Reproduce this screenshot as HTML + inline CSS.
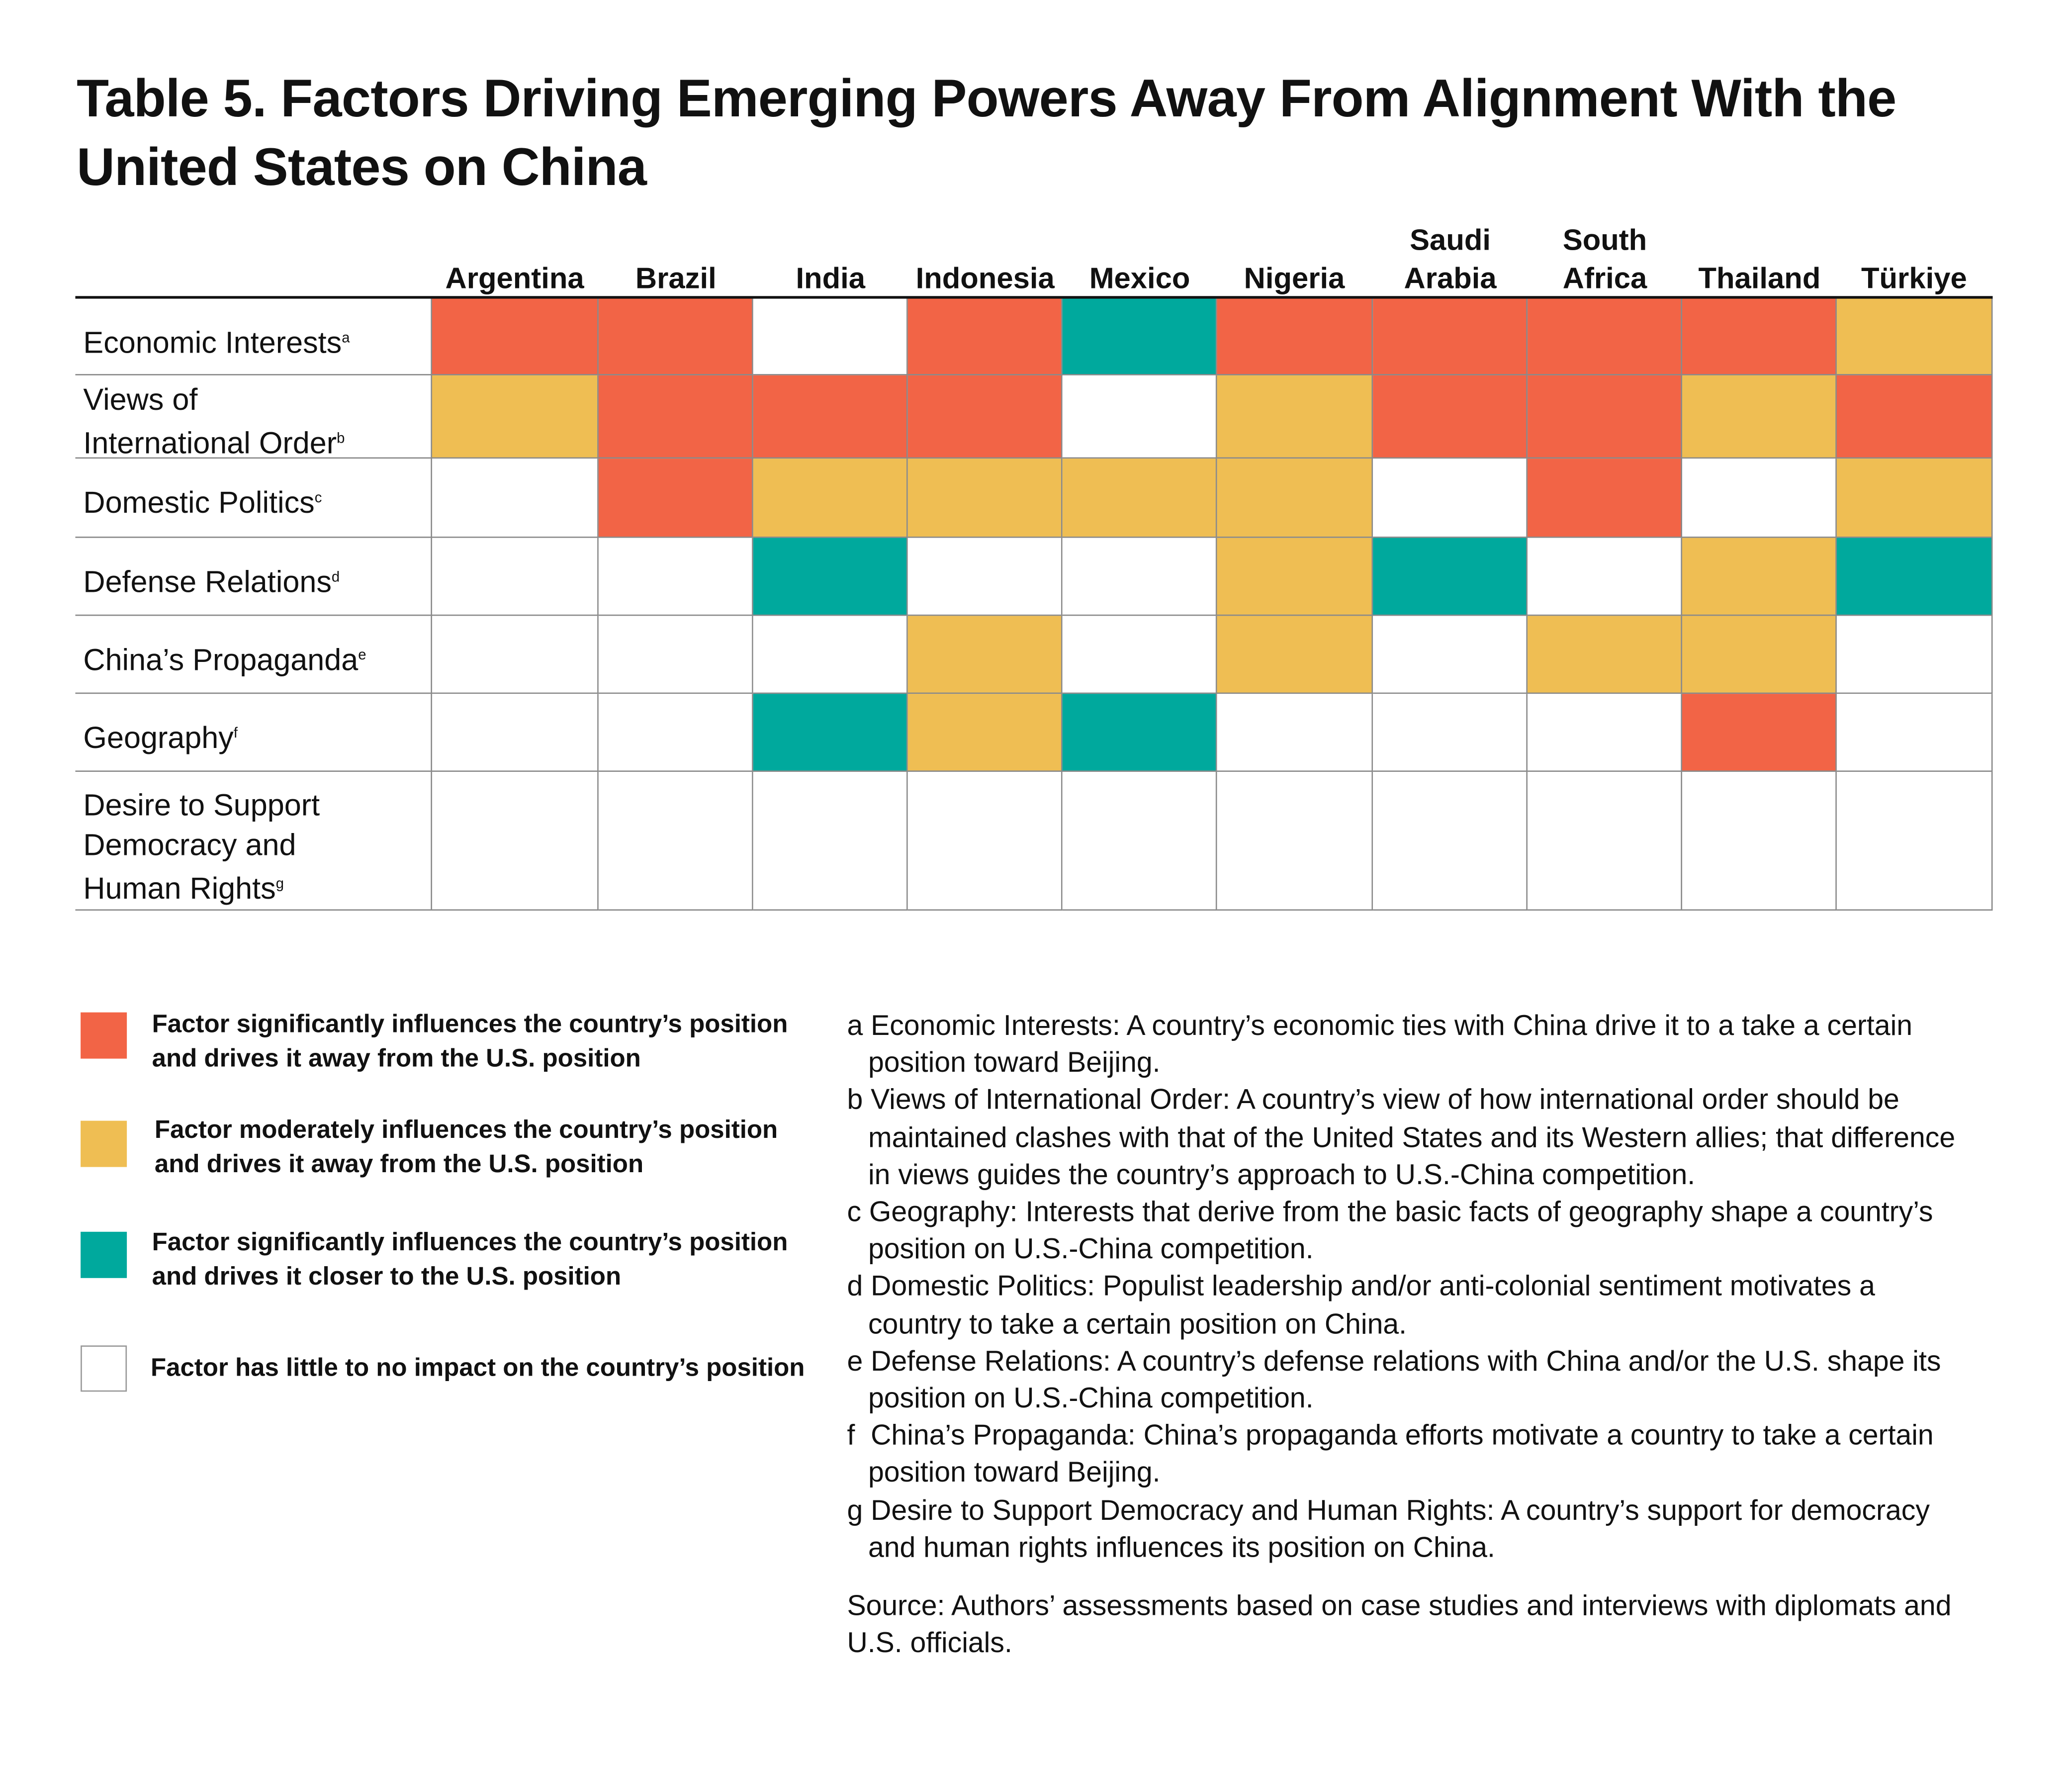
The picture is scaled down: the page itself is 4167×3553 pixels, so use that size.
<!DOCTYPE html>
<html><head><meta charset="utf-8"><style>
html,body{margin:0;padding:0;background:#fff;}
body{width:4167px;height:3553px;overflow:hidden;position:relative;}
#w{position:absolute;left:0;top:0;width:1568px;height:1337px;transform:scale(2.6575);transform-origin:0 0;font-family:"Liberation Sans",sans-serif;color:#111;}
.a{position:absolute;white-space:nowrap;}
.t{font-weight:bold;font-size:40px;letter-spacing:-0.3px;left:58px;}
.h{font-weight:bold;font-size:22.5px;text-align:center;width:117px;line-height:29px;}
.r{font-size:23px;left:63px;line-height:30px;}
.r sup{font-size:11px;vertical-align:8px;}
.c{position:absolute;box-sizing:border-box;border-right:1px solid #8a8a8a;border-bottom:1px solid #8a8a8a;}
.R{background:#F26446}.Y{background:#EFBE53}.T{background:#00A99D}.W{background:#fff}
.hl{position:absolute;left:57px;width:1451px;height:1px;background:#8a8a8a;}
.lg{position:absolute;left:61px;width:35px;height:35px;box-sizing:border-box;}
.lt{font-weight:bold;font-size:19.2px;left:115px;line-height:26px;}
.f{font-size:21.5px;left:641px;line-height:28.2px;}
.f div{padding-left:16px;text-indent:-16px;white-space:nowrap;}
</style></head><body><div id="w">
<div class="a t" style="top:53px">Table 5. Factors Driving Emerging Powers Away From Alignment With the</div>
<div class="a t" style="top:105px">United States on China</div>

<div class="a h" style="left:331px;top:196px">Argentina</div>
<div class="a h" style="left:453px;top:196px">Brazil</div>
<div class="a h" style="left:570px;top:196px">India</div>
<div class="a h" style="left:687px;top:196px">Indonesia</div>
<div class="a h" style="left:804px;top:196px">Mexico</div>
<div class="a h" style="left:921px;top:196px">Nigeria</div>
<div class="a h" style="left:1039px;top:167px">Saudi<br>Arabia</div>
<div class="a h" style="left:1156px;top:167px">South<br>Africa</div>
<div class="a h" style="left:1273px;top:196px">Thailand</div>
<div class="a h" style="left:1390px;top:196px">Türkiye</div>

<div id="grid"></div>
<script>
var cols=[327,453,570,687,804,921,1039,1156,1273,1390,1508];
var rows=[225,284,347,407,466,525,584,689];
var d=["RRWRTRRRRY","YRRRWYRRYR","WRYYYYWRWY","WWTWWYTWYT","WWWYWYWYYW","WWTYTWWWRW","WWWWWWWWWW"];
var h="";
for(var i=0;i<7;i++){h+='<div class="hl" style="top:'+(rows[i+1]-1)+'px"></div>';
for(var j=0;j<10;j++){h+='<div class="c '+d[i][j]+'" style="left:'+cols[j]+'px;top:'+rows[i]+'px;width:'+(cols[j+1]-cols[j])+'px;height:'+(rows[i+1]-rows[i])+'px"></div>';}}
h+='<div style="position:absolute;left:326px;top:225px;width:1px;height:464px;background:#8a8a8a"></div>';
document.getElementById('grid').innerHTML=h;
</script>
<div style="position:absolute;left:57px;top:224px;width:1451px;height:2px;background:#111"></div>

<div class="a r" style="top:241px">Economic Interests<sup>a</sup></div>
<div class="a r" style="top:287px">Views of<br>International Order<sup>b</sup></div>
<div class="a r" style="top:362px">Domestic Politics<sup>c</sup></div>
<div class="a r" style="top:422px">Defense Relations<sup>d</sup></div>
<div class="a r" style="top:481px">China’s Propaganda<sup>e</sup></div>
<div class="a r" style="top:540px">Geography<sup>f</sup></div>
<div class="a r" style="top:594px">Desire to Support<br>Democracy and<br>Human Rights<sup>g</sup></div>

<div class="lg R" style="top:766px"></div>
<div class="lg Y" style="top:848px"></div>
<div class="lg T" style="top:932px"></div>
<div class="lg" style="top:1018px;border:1.5px solid #999"></div>
<div class="a lt" style="top:763px">Factor significantly influences the country’s position<br>and drives it away from the U.S. position</div>
<div class="a lt" style="top:843px;left:117px">Factor moderately influences the country’s position<br>and drives it away from the U.S. position</div>
<div class="a lt" style="top:928px">Factor significantly influences the country’s position<br>and drives it closer to the U.S. position</div>
<div class="a lt" style="top:1023px;left:114px">Factor has little to no impact on the country’s position</div>

<div class="a f" style="top:762px">
<div>a Economic Interests: A country’s economic ties with China drive it to a take a certain<br>position toward Beijing.</div>
<div>b Views of International Order: A country’s view of how international order should be<br>maintained clashes with that of the United States and its Western allies; that difference<br>in views guides the country’s approach to U.S.-China competition.</div>
<div>c Geography: Interests that derive from the basic facts of geography shape a country’s<br>position on U.S.-China competition.</div>
<div>d Domestic Politics: Populist leadership and/or anti-colonial sentiment motivates a<br>country to take a certain position on China.</div>
<div>e Defense Relations: A country’s defense relations with China and/or the U.S. shape its<br>position on U.S.-China competition.</div>
<div>f &nbsp;China’s Propaganda: China’s propaganda efforts motivate a country to take a certain<br>position toward Beijing.</div>
<div>g Desire to Support Democracy and Human Rights: A country’s support for democracy<br>and human rights influences its position on China.</div>
</div>
<div class="a f" style="top:1201px">Source: Authors’ assessments based on case studies and interviews with diplomats and<br>U.S. officials.</div>
</div></body></html>
